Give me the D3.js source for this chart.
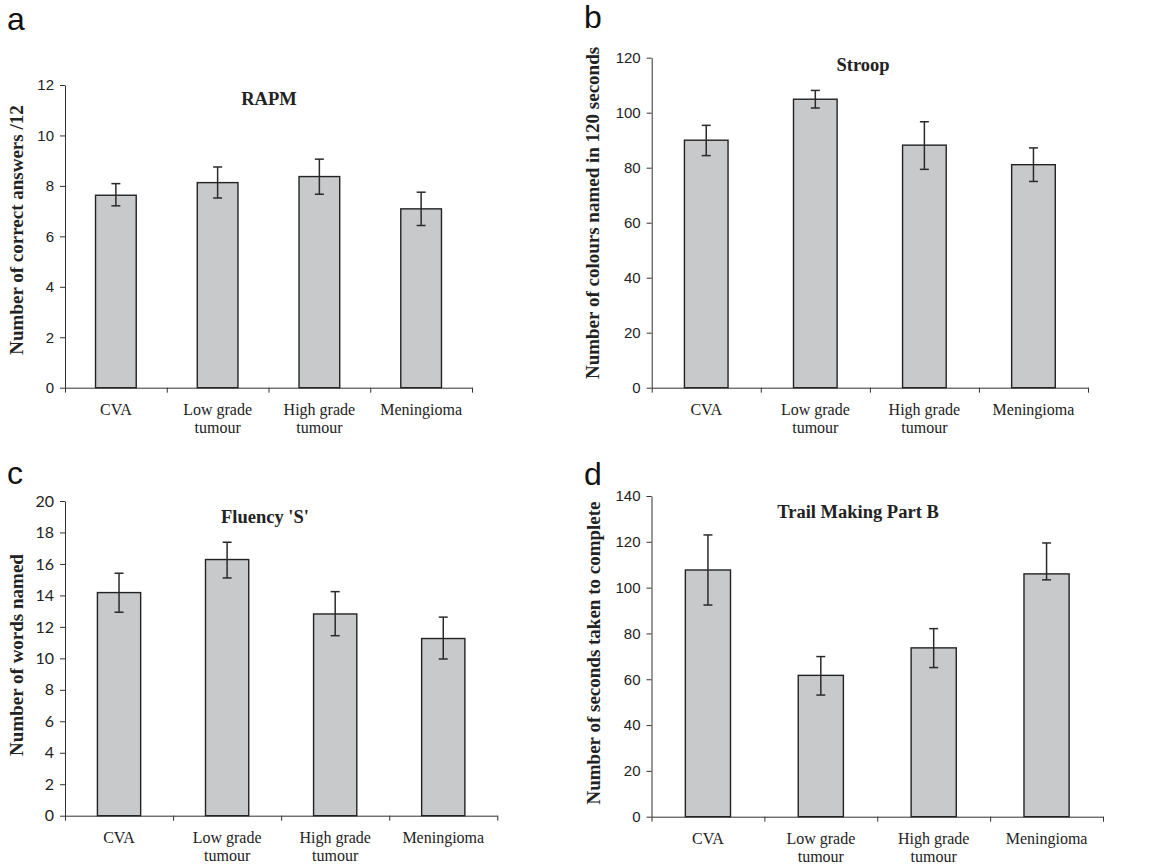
<!DOCTYPE html>
<html>
<head>
<meta charset="utf-8">
<script src="https://cdn.jsdelivr.net/npm/d3@7"></script>
<style>
  body { margin: 0; background: #fff; }
  svg { display: block; }
</style>
</head>
<body>
<svg id="fig" width="1159" height="866"></svg>
<script>
// four neuropsych test panels, mean +/- error per patient group
var groups = [['CVA'], ['Low grade', 'tumour'], ['High grade', 'tumour'], ['Meningioma']]

var rapmMean = [7.63, 8.13, 8.37, 7.09]
var rapmLo   = [7.21, 7.52, 7.67, 6.43]
var rapmHi   = [8.09, 8.75, 9.06, 7.75]

var stroopMean = [90.0, 104.9, 88.2, 81.1]
var stroopLo   = [84.4, 101.7, 79.4, 75.0]
var stroopHi   = [95.4, 108.1, 96.7, 87.2]

var fluencyMean = [14.18, 16.28, 12.82, 11.26]
var fluencyLo   = [12.93, 15.11, 11.44, 9.96]
var fluencyHi   = [15.41, 17.38, 14.24, 12.62]

var trailMean = [107.7, 61.7, 73.7, 106.0]
var trailLo   = [92.4, 53.1, 65.1, 103.4]
var trailHi   = [123.0, 69.9, 82.1, 119.5]

var sans = 'Liberation Sans, Arial, sans-serif'
var serif = 'Liberation Serif, Times New Roman, serif'
var ink = '#222'

var panels = [
	{letter: 'a', title: 'RAPM', ylabel: 'Number of correct answers /12',
		mean: rapmMean, lo: rapmLo, hi: rapmHi, ymax: 12, step: 2, tickFont: sans, tickSize: 15,
		x0: 65, x1: 472, yTop: 85, yBot: 387.7, titleX: 269, titleY: 99, labX: 17, labY: 230, letX: 7, letY: 30},
	{letter: 'b', title: 'Stroop', ylabel: 'Number of colours named in 120 seconds',
		mean: stroopMean, lo: stroopLo, hi: stroopHi, ymax: 120, step: 20, tickFont: sans, tickSize: 15,
		x0: 651.7, x1: 1088, yTop: 57.7, yBot: 387.7, titleX: 863, titleY: 65, labX: 593, labY: 213, letX: 584, letY: 28},
	{letter: 'c', title: 'Fluency \'S\'', ylabel: 'Number of words named',
		mean: fluencyMean, lo: fluencyLo, hi: fluencyHi, ymax: 20, step: 2, tickFont: 'Lato, sans-serif', tickSize: 16,
		x0: 65, x1: 497.3, yTop: 501, yBot: 815.7, titleX: 265, titleY: 517, labX: 17, labY: 655, letX: 7, letY: 484},
	{letter: 'd', title: 'Trail Making Part B', ylabel: 'Number of seconds taken to complete',
		mean: trailMean, lo: trailLo, hi: trailHi, ymax: 140, step: 20, tickFont: sans, tickSize: 15,
		x0: 651.5, x1: 1103, yTop: 496, yBot: 816.7, titleX: 858, titleY: 512, labX: 594, labY: 653, letX: 584, letY: 485}
]

var svg = d3.select('#fig')

panels.forEach(function(p) {
	var g = svg.append('g')
	var names = groups.map(function(d) { return d.join(' ') })

	var x = d3.scaleBand().domain(names).range([p.x0, p.x1]).paddingInner(0.6).paddingOuter(0.3)
	var edges = d3.scaleLinear().domain([0, groups.length]).range([p.x0, p.x1])
	var y = d3.scaleLinear().domain([0, p.ymax]).range([p.yBot, p.yTop])

	// bars
	g.selectAll('rect.bar').data(p.mean).enter().append('rect')
		.attr('class', 'bar')
		.attr('x', function(d, i) { return x(names[i]) })
		.attr('width', x.bandwidth())
		.attr('y', function(d) { return y(d) })
		.attr('height', function(d) { return y(0) - y(d) })
		.attr('fill', '#c8c9cb').attr('stroke', ink).attr('stroke-width', 1.4)

	// error bars
	var eb = g.selectAll('g.err').data(p.mean).enter().append('g').attr('class', 'err')
		.attr('stroke', '#2a2a2a').attr('stroke-width', 1.5)
	eb.append('line')
		.attr('x1', function(d, i) { return x(names[i]) + x.bandwidth() / 2 })
		.attr('x2', function(d, i) { return x(names[i]) + x.bandwidth() / 2 })
		.attr('y1', function(d, i) { return y(p.lo[i]) })
		.attr('y2', function(d, i) { return y(p.hi[i]) })
	;['lo', 'hi'].forEach(function(k) {
		eb.append('line')
			.attr('x1', function(d, i) { return x(names[i]) + x.bandwidth() / 2 - 4.5 })
			.attr('x2', function(d, i) { return x(names[i]) + x.bandwidth() / 2 + 4.5 })
			.attr('y1', function(d, i) { return y(p[k][i]) })
			.attr('y2', function(d, i) { return y(p[k][i]) })
	})

	// y axis
	var ya = g.append('g').attr('transform', 'translate(' + p.x0 + ',0)')
		.call(d3.axisLeft(y).tickValues(d3.range(0, p.ymax + 0.001, p.step)).tickSize(5).tickSizeOuter(0).tickPadding(6))
	ya.selectAll('text').attr('font-family', p.tickFont).attr('font-size', p.tickSize).attr('fill', ink)
	ya.selectAll('line, path').attr('stroke', '#333')

	// x axis with ticks on group boundaries
	var xa = g.append('g').attr('transform', 'translate(0,' + p.yBot + ')')
		.call(d3.axisBottom(edges).tickValues(d3.range(0, groups.length + 1)).tickFormat('').tickSize(5).tickSizeOuter(0))
	xa.selectAll('line, path').attr('stroke', '#333')

	// category labels
	var cl = g.selectAll('text.cat').data(groups).enter().append('text')
		.attr('class', 'cat')
		.attr('text-anchor', 'middle')
		.attr('font-family', serif).attr('font-size', 16).attr('fill', ink)
		.attr('transform', function(d, i) { return 'translate(' + (x(names[i]) + x.bandwidth() / 2) + ',' + (p.yBot + 27) + ')' })
	cl.selectAll('tspan').data(function(d) { return d }).enter().append('tspan')
		.attr('x', 0).attr('dy', function(d, j) { return j ? 18.5 : 0 })
		.text(function(d) { return d })

	// title
	g.append('text').text(p.title)
		.attr('x', p.titleX).attr('y', p.titleY + 6)
		.attr('text-anchor', 'middle')
		.attr('font-family', serif).attr('font-weight', 'bold').attr('font-size', 18.5).attr('fill', ink)

	// y label
	g.append('text').text(p.ylabel)
		.attr('transform', 'translate(' + (p.labX + 6) + ',' + p.labY + ') rotate(-90)')
		.attr('text-anchor', 'middle')
		.attr('font-family', serif).attr('font-weight', 'bold').attr('font-size', 19).attr('fill', ink)

	// panel letter
	g.append('text').text(p.letter)
		.attr('x', p.letX).attr('y', p.letY)
		.attr('font-family', sans).attr('font-size', 32).attr('fill', '#111')
})
</script>
</body>
</html>
